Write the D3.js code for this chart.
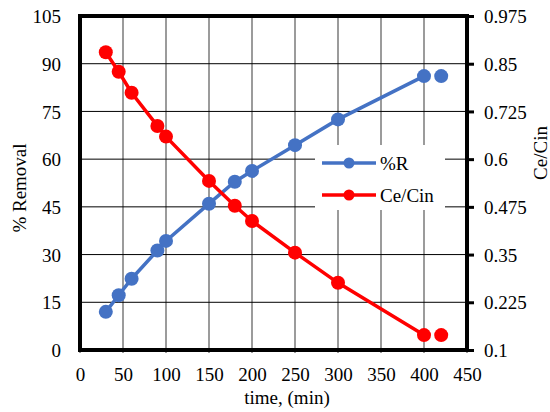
<!DOCTYPE html>
<html>
<head>
<meta charset="utf-8">
<script src="https://cdn.jsdelivr.net/npm/d3@7"></script>
<style>
  body { margin: 0; background: #fff; }
</style>
</head>
<body>
<svg id="chart" width="550" height="412"></svg>
<script>
// data
var time = [30, 45, 60, 90, 100, 150, 180, 200, 250, 300, 400, 420];
var removal = [12, 17.2, 22.4, 31.3, 34.3, 46, 52.9, 56.3, 64.4, 72.5, 86.1, 86.1];
var ceCin = [0.880, 0.829, 0.774, 0.687, 0.659, 0.543, 0.478, 0.438, 0.355, 0.276, 0.139, 0.139];
var xTicks = [0, 50, 100, 150, 200, 250, 300, 350, 400, 450];
var yLeftTicks = [0, 15, 30, 45, 60, 75, 90, 105];
var yRightTicks = [0.1, 0.225, 0.35, 0.475, 0.6, 0.725, 0.85, 0.975];
var seriesNames = ['%R', 'Ce/Cin'];
var colors = ['#4472C4', '#FF0000'];

var FONT = '"Liberation Serif", serif';
var margin = {left: 80, top: 16, right: 83, bottom: 62};
var svg = d3.select('#chart');
var w = 550 - margin.left - margin.right,
    h = 412 - margin.top - margin.bottom;

var x = d3.scaleLinear().domain([0, 450]).range([0, w]);
var yL = d3.scaleLinear().domain([0, 105]).range([h, 0]);
var yR = d3.scaleLinear().domain([0.1, 0.975]).range([h, 0]);

var g = svg.append('g').attr('transform', 'translate(' + margin.left + ',' + margin.top + ')');

// grid
g.selectAll('.vgrid').data(xTicks).enter().append('line')
    .attr('x1', function(d) { return x(d); }).attr('x2', function(d) { return x(d); })
    .attr('y1', 0).attr('y2', h + 3)
    .attr('stroke', '#7a7a7a').attr('stroke-width', 1.5);
g.selectAll('.hgrid').data(yLeftTicks).enter().append('line')
    .attr('x1', 0).attr('x2', w)
    .attr('y1', function(d) { return yL(d); }).attr('y2', function(d) { return yL(d); })
    .attr('stroke', '#000').attr('stroke-width', 1);

// axes
var xAxis = d3.axisBottom(x).tickValues(xTicks).tickSize(0).tickPadding(18);
var leftAxis = d3.axisLeft(yL).tickValues(yLeftTicks).tickSize(0).tickPadding(19);
var rightAxis = d3.axisRight(yR).tickValues(yRightTicks).tickSize(7).tickPadding(10)
    .tickFormat(function(d) { return d3.format('')(+d.toFixed(3)); });

function styleAxis(sel) {
    sel.attr('font-family', FONT).attr('font-size', 19);
    sel.select('.domain').remove();
    sel.selectAll('text').style('font-size', '19px')
        .style('font-family', FONT).attr('fill', '#000');
    sel.selectAll('line').attr('stroke', '#000').attr('stroke-width', 3);
}
g.append('g').attr('transform', 'translate(0,' + h + ')').call(xAxis).call(styleAxis);
g.append('g').call(leftAxis).call(styleAxis)
    .selectAll('text').attr('dy', '0.35em');
g.append('g').attr('transform', 'translate(' + w + ',0)').call(rightAxis).call(styleAxis)
    .selectAll('text').attr('dy', '0.35em');

// frame
g.append('rect').attr('x', 0).attr('y', 0).attr('width', w).attr('height', h)
    .attr('fill', 'none').attr('stroke', '#000').attr('stroke-width', 4);

// series
var series = [
    {name: seriesNames[0], color: colors[0], y: yL, values: removal},
    {name: seriesNames[1], color: colors[1], y: yR, values: ceCin}
];
series.forEach(function(s) {
    var pts = time.map(function(t, i) { return [t, s.values[i]]; });
    var line = d3.line()
        .x(function(d) { return x(d[0]); })
        .y(function(d) { return s.y(d[1]); });
    // last point is not joined in the reference
    g.append('path').datum(pts.slice(0, pts.length - 1))
        .attr('d', line).attr('fill', 'none')
        .attr('stroke', s.color).attr('stroke-width', 3.5);
    g.selectAll(null).data(pts).enter().append('circle')
        .attr('cx', function(d) { return x(d[0]); })
        .attr('cy', function(d) { return s.y(d[1]); })
        .attr('r', 7).attr('fill', s.color);
});

// legend
var lg = svg.append('g').attr('transform', 'translate(315,145)');
lg.append('rect').attr('width', 130).attr('height', 65).attr('fill', '#fff');
series.forEach(function(s, i) {
    var yy = 18 + i * 32;
    lg.append('line').attr('x1', 7).attr('x2', 61).attr('y1', yy).attr('y2', yy)
        .attr('stroke', s.color).attr('stroke-width', 3.5);
    lg.append('circle').attr('cx', 34).attr('cy', yy).attr('r', 5.5).attr('fill', s.color);
    lg.append('text').attr('x', 65).attr('y', yy).attr('dy', '0.35em')
        .style('font-family', FONT).style('font-size', '19px').text(s.name);
});

// axis titles
svg.append('text').attr('x', 287).attr('y', 404).attr('text-anchor', 'middle')
    .style('font-family', FONT).style('font-size', '19px').text('time, (min)');
svg.append('text').attr('transform', 'translate(19,188) rotate(-90)')
    .attr('text-anchor', 'middle').attr('dy', '0.35em')
    .style('font-family', FONT).style('font-size', '19px').text('% Removal');
svg.append('text').attr('transform', 'translate(540,153) rotate(-90)')
    .attr('text-anchor', 'middle').attr('dy', '0.35em')
    .style('font-family', FONT).style('font-size', '19px').text('Ce/Cin');
</script>
</body>
</html>
